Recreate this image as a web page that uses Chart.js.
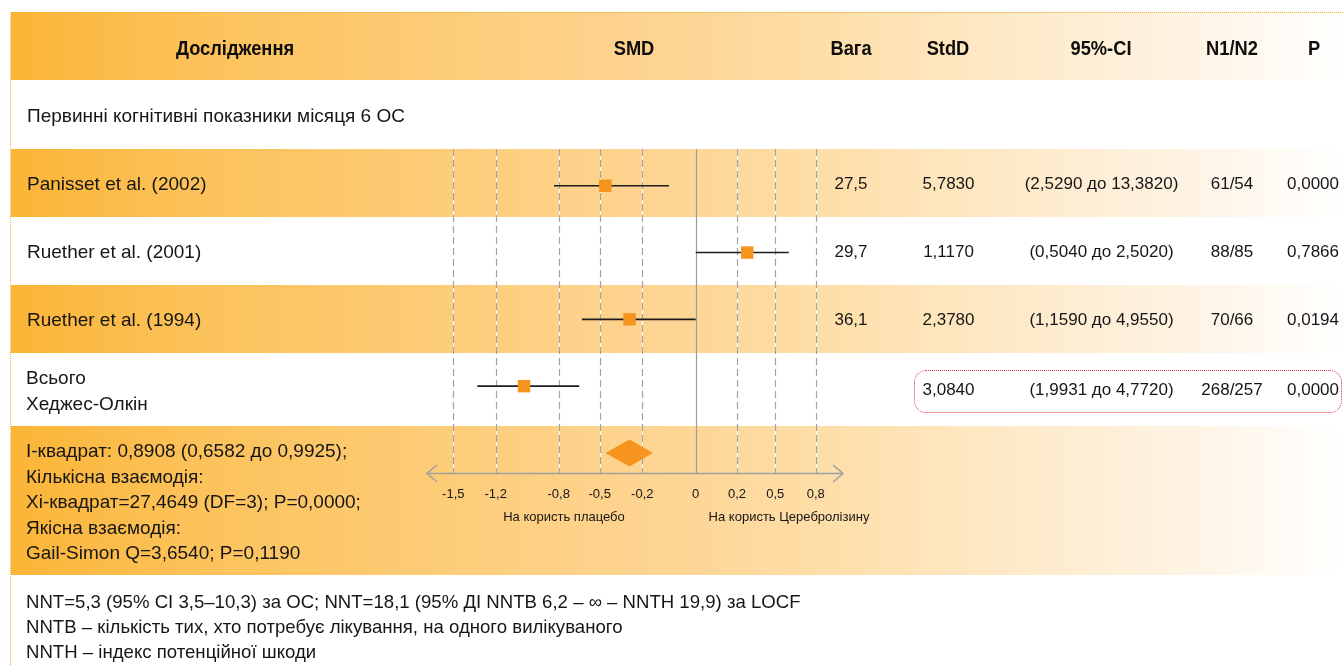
<!DOCTYPE html>
<html lang="uk">
<head>
<meta charset="utf-8">
<title>SMD — первинні когнітивні показники</title>
<script src="https://cdn.jsdelivr.net/npm/chart.js@4.4.1/dist/chart.umd.min.js"></script>
<style>
  html, body { margin: 0; padding: 0; background: #fff; }
  #page { position: relative; width: 1343px; height: 665px; overflow: hidden;
          font-family: 'Liberation Sans', Arial, sans-serif; color: #161616; }
  .band { position: absolute; left: 11px; right: 0;
          background: linear-gradient(to right, #FBB537 0%, #FCC25A 14%, #FDCB74 30%, #FDD595 50%,
                      #FEDFAA 62%, #FEEACA 76%, #FEF3E3 88%, #FFFFFF 100%); }
  #frame { position: absolute; left: 10px; top: 12px; right: -2px; bottom: -2px;
           border-left: 1px dotted #F6B232; border-top: 1px dotted #F6B232; }
  #totalBox { position: absolute; left: 914px; top: 370px; width: 426px; height: 41px;
              border: 1px dotted #E2343C; border-radius: 12px; }
  .t { position: absolute; white-space: nowrap; height: 24px; line-height: 24px; font-size: 19px; }
  .c { transform: translateX(-50%); text-align: center; }
  .h { font-weight: bold; font-size: 21px; color: #0d0d0d; transform: translateX(-50%) scaleX(0.87); }
  .n { font-size: 17px; }
  .f { font-size: 18.6px; }
  .s { font-size: 13px; height: 18px; line-height: 18px; }
  #forest { position: absolute; left: 0; top: 0; }
</style>
</head>
<body>
<div id="page">
  <div class="band" style="top:12px;height:68px"></div>
  <div class="band" style="top:149px;height:68px"></div>
  <div class="band" style="top:285px;height:68px"></div>
  <div class="band" style="top:426px;height:149px"></div>
  <div id="frame"></div>
  <div id="totalBox"></div>
  <canvas id="forest" width="1343" height="665"></canvas>
</div>
<script>
// ---- table and plot values ----
const headers = ['Дослідження', 'SMD', 'Вага', 'StdD', '95%-CI', 'N1/N2', 'P'];
const sectionTitle = 'Первинні когнітивні показники місяця 6 ОС';
const studyNames = ['Panisset et al. (2002)', 'Ruether et al. (2001)', 'Ruether et al. (1994)'];
const totalNames = ['Всього', 'Хеджес-Олкін'];

// SMD estimate with lower / upper limits; last entry is the pooled row
const smdEstimate = [-0.46, 0.28, -0.29, -1.02];
const smdLower    = [-0.83, 0.00, -0.63, -1.33];
const smdUpper    = [-0.10, 0.60,  0.00, -0.65];
// pooled diamond: lower, estimate, upper
const pooledDiamond = [-0.46, -0.29, -0.16];

const weights = ['27,5', '29,7', '36,1', ''];
const stdD    = ['5,7830', '1,1170', '2,3780', '3,0840'];
const ci95    = ['(2,5290 до 13,3820)', '(0,5040 до 2,5020)', '(1,1590 до 4,9550)', '(1,9931 до 4,7720)'];
const nRatio  = ['61/54', '88/85', '70/66', '268/257'];
const pValues = ['0,0000', '0,7866', '0,0194', '0,0000'];

const xTicks = [-1.5, -1.2, -0.8, -0.5, -0.2, 0, 0.2, 0.5, 0.8];
const axisCaptions = ['На користь плацебо', 'На користь Церебролізину'];

const statsLines = [
  'І-квадрат: 0,8908 (0,6582 до 0,9925);',
  'Кількісна взаємодія:',
  'Хі-квадрат=27,4649 (DF=3); P=0,0000;',
  'Якісна взаємодія:',
  'Gail-Simon Q=3,6540; P=0,1190'
];
const noteLines = [
  'NNT=5,3 (95% CI 3,5–10,3) за ОС; NNT=18,1 (95% ДІ NNTB 6,2 – ∞ – NNTH 19,9) за LOCF',
  'NNTB – кількість тих, хто потребує лікування, на одного вилікуваного',
  'NNTH – індекс потенційної шкоди'
];

// ---- page layout ----
const headerX   = [235, 634, 851, 948, 1101, 1232, 1314];
const columnX   = [851, 948.5, 1101.5, 1232, 1313];
const rowY      = [184, 252, 320, 390];
const page = document.getElementById('page');

function addText(txt, x, y, cls, centered) {
  const d = document.createElement('div');
  d.className = 't ' + (cls || '') + (centered ? ' c' : '');
  d.textContent = txt;
  d.style.left = x + 'px';
  d.style.top = (y - (cls === 's' ? 9 : 12)) + 'px';
  page.appendChild(d);
}

headers.forEach((h, i) => addText(h, headerX[i], 48, 'h', false));
addText(sectionTitle, 27, 116);
studyNames.forEach((s, i) => addText(s, 27, rowY[i]));
addText(totalNames[0], 26, 378);
addText(totalNames[1], 26, 404);
[weights, stdD, ci95, nRatio, pValues].forEach(col => {
  col.forEach((v, r) => { if (v) addText(v, columnX[[weights, stdD, ci95, nRatio, pValues].indexOf(col)], rowY[r], 'n', true); });
});
statsLines.forEach((s, i) => addText(s, 26, 451 + i * 25.6));
noteLines.forEach((s, i) => addText(s, 26, 601.5 + i * 25, 'f'));
addText(axisCaptions[0], 564, 517, 's', true);
addText(axisCaptions[1], 789, 517, 's', true);

// ---- SMD axis: tick spacing of this axis is not uniform ----
const AXIS_STOPS = [[-1.69, 0], [-1.5, 0.0632], [-1.2, 0.1651], [-0.8, 0.3166], [-0.5, 0.4151],
                    [-0.2, 0.5175], [0, 0.6459], [0.2, 0.7452], [0.5, 0.8373], [0.8, 0.9344], [1.0, 1]];

function interp(list, a, b, v) {
  let i = 0;
  while (i < list.length - 2 && v > list[i + 1][a]) i++;
  const p = list[i], q = list[i + 1];
  return p[b] + (v - p[a]) * (q[b] - p[b]) / (q[a] - p[a]);
}

class PiecewiseScale extends Chart.LinearScale {
  buildTicks() { return xTicks.map(v => ({ value: v })); }
  getPixelForValue(value) { return this.getPixelForDecimal(interp(AXIS_STOPS, 0, 1, value)); }
  getValueForPixel(pixel) { return interp(AXIS_STOPS, 1, 0, this.getDecimalForPixel(pixel)); }
}
PiecewiseScale.id = 'piecewise';
PiecewiseScale.defaults = Chart.LinearScale.defaults;
Chart.register(PiecewiseScale);

// reference lines, axis with arrows and the pooled diamond
const forestDecor = {
  id: 'forestDecor',
  beforeDatasetsDraw(chart) {
    const { ctx, chartArea: a, scales: { x, y } } = chart;
    ctx.save();
    xTicks.forEach(v => {
      const px = Math.round(x.getPixelForValue(v)) + 0.5;
      ctx.beginPath();
      ctx.moveTo(px, a.top);
      ctx.lineTo(px, a.bottom);
      ctx.setLineDash([]);
      if (v === 0) {
        ctx.strokeStyle = '#9c9c9c'; ctx.lineWidth = 1.2; ctx.stroke();
      } else {
        ctx.strokeStyle = '#ffffff'; ctx.lineWidth = 1.2; ctx.stroke();
        ctx.strokeStyle = '#a2a2a2'; ctx.setLineDash([7, 4]); ctx.stroke();
      }
    });
    ctx.setLineDash([]);
    ctx.strokeStyle = '#a0a0a0';
    ctx.lineWidth = 1.5;
    const ay = a.bottom + 0.5;
    ctx.beginPath();
    ctx.moveTo(x.left, ay); ctx.lineTo(x.right, ay);
    ctx.moveTo(x.left + 10, ay - 8.5); ctx.lineTo(x.left, ay); ctx.lineTo(x.left + 10, ay + 8.5);
    ctx.moveTo(x.right - 10, ay - 8.5); ctx.lineTo(x.right, ay); ctx.lineTo(x.right - 10, ay + 8.5);
    ctx.stroke();

    const [lo, est, hi] = pooledDiamond;
    const dy = y.getPixelForValue(smdEstimate.length);
    ctx.fillStyle = '#F7941D';
    ctx.beginPath();
    ctx.moveTo(x.getPixelForValue(lo), dy);
    ctx.lineTo(x.getPixelForValue(est), dy - 13.5);
    ctx.lineTo(x.getPixelForValue(hi), dy);
    ctx.lineTo(x.getPixelForValue(est), dy + 13.5);
    ctx.closePath();
    ctx.fill();
    ctx.restore();
  }
};

const ciSets = smdEstimate.map((_, i) => ({
  type: 'scatter',
  data: [{ x: smdLower[i], y: i }, { x: smdUpper[i], y: i }],
  showLine: true,
  borderColor: '#1c1c1c',
  borderWidth: 1.6,
  pointRadius: 0,
  order: 1
}));

new Chart(document.getElementById('forest'), {
  type: 'scatter',
  data: {
    datasets: [{
      data: smdEstimate.map((v, i) => ({ x: v, y: i })),
      pointStyle: 'rect',
      pointRadius: 8.8,
      pointHoverRadius: 8.8,
      pointBackgroundColor: '#F7941D',
      pointBorderWidth: 0,
      order: 0
    }, ...ciSets]
  },
  options: {
    responsive: false,
    devicePixelRatio: 1,
    animation: false,
    events: [],
    layout: { padding: { left: 427, right: 500, top: 149, bottom: 152 } },
    plugins: { legend: { display: false }, tooltip: { enabled: false } },
    scales: {
      x: {
        type: 'piecewise',
        min: -1.69, max: 1.0,
        afterFit(scale) { scale.height = 40; },
        grid: { display: false, drawTicks: false },
        border: { display: false },
        ticks: {
          autoSkip: false, maxRotation: 0, padding: 14,
          color: '#161616',
          font: { family: "'Liberation Sans', Arial, sans-serif", size: 13 },
          callback: v => String(v).replace('.', ',')
        }
      },
      y: { type: 'linear', display: false, reverse: true, min: -0.55, max: 4.3 }
    }
  },
  plugins: [forestDecor]
});
</script>
</body>
</html>
